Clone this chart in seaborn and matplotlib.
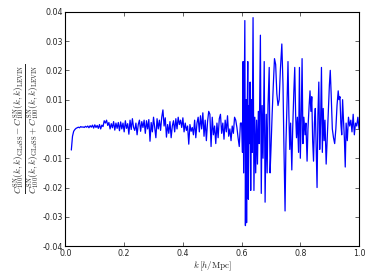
import numpy as np
import pandas as pd
import matplotlib
matplotlib.use("Agg")
import matplotlib.pyplot as plt
import seaborn as sns

# relative difference GLaSS vs Levin
# smooth part: evenly spaced from k=0.02 to k=0.596
calm_ratio = [
    -0.0072, -0.0025, -0.0008, -0.0002, 0.0002, 0.0004, 0.0006, 0.0004, 0.0008, 0.0006,
    0.0007, 0.0005, 0.0009, 0.0006, 0.0010, 0.0004, 0.0011, 0.0006, 0.0013, 0.0003,
    0.0014, 0.0005, 0.0012, 0.0002, 0.0015, 0.0000, 0.0013, 0.0008, 0.0028, 0.0020,
    0.0030, 0.0012, 0.0022, 0.0000, 0.0018, 0.0004, 0.0025, -0.0004, 0.0020, 0.0002,
    0.0022, -0.0006, 0.0024, 0.0000, 0.0020, -0.0010, 0.0028, 0.0002, 0.0018, -0.0018,
    0.0030, -0.0002, 0.0035, 0.0005, -0.0005, 0.0020, -0.0020, 0.0015, 0.0030, -0.0008,
    0.0025, 0.0005, 0.0030, -0.0015, 0.0028, 0.0000, 0.0032, -0.0042, 0.0022, -0.0010,
    0.0040, 0.0005, -0.0030, 0.0035, 0.0000, 0.0030, -0.0005, 0.0040, 0.0065, 0.0010,
    0.0038, -0.0028, 0.0015, -0.0015, 0.0025, -0.0030, 0.0010, 0.0028, -0.0010, 0.0035,
    0.0000, 0.0040, 0.0015, 0.0030, 0.0005, 0.0038, -0.0010, 0.0020, -0.0005, 0.0010,
    -0.0052, 0.0015, -0.0008, 0.0005, -0.0020, 0.0030, -0.0030, 0.0020, 0.0040, -0.0010,
    0.0045, 0.0000, 0.0055, -0.0025, 0.0030, -0.0040, 0.0025, 0.0060, 0.0050, -0.0060,
    0.0040, -0.0020, 0.0010, -0.0050, 0.0020, -0.0030, 0.0035, 0.0050, -0.0015, 0.0020,
    -0.0035, 0.0030, -0.0010, 0.0045, -0.0025, 0.0000, -0.0040, 0.0010, -0.0015, 0.0040,
    0.0030, 0.0005, -0.0030, -0.0060, 0.0020,
]

# noisy part above k=0.6
wild_k = [
    0.600, 0.603, 0.605, 0.607, 0.609, 0.611, 0.613, 0.615, 0.617, 0.619,
    0.621, 0.623, 0.625, 0.627, 0.629, 0.631, 0.633, 0.636, 0.639, 0.642,
    0.645, 0.648, 0.651, 0.654, 0.657, 0.660, 0.664, 0.667, 0.670, 0.673,
    0.677, 0.680, 0.684, 0.687, 0.690, 0.694, 0.697, 0.700, 0.704, 0.708,
    0.712, 0.716, 0.720, 0.724, 0.728, 0.732, 0.737, 0.741, 0.744, 0.748,
    0.751, 0.755, 0.758, 0.761, 0.764, 0.767, 0.771, 0.774, 0.778, 0.781,
    0.784, 0.787, 0.790, 0.794, 0.797, 0.800, 0.803, 0.806, 0.809, 0.812,
    0.816, 0.819, 0.823, 0.826, 0.830, 0.833, 0.836, 0.839, 0.842, 0.845,
    0.848, 0.851, 0.854, 0.857, 0.860, 0.863, 0.866, 0.869, 0.872, 0.875,
    0.878, 0.881, 0.884, 0.888, 0.891, 0.895, 0.899, 0.902, 0.905, 0.909,
    0.913, 0.917, 0.921, 0.925, 0.929, 0.932, 0.935, 0.938, 0.941, 0.944,
    0.947, 0.950, 0.953, 0.956, 0.960, 0.964, 0.968, 0.972, 0.976, 0.980,
    0.984, 0.988, 0.992, 0.996, 1.000,
]
wild_ratio = [
    0.0020, -0.0080, 0.0230, -0.0150, 0.0120, 0.0370, -0.0330, 0.0100, -0.0320, 0.0050,
    0.0230, -0.0240, 0.0080, -0.0050, 0.0160, -0.0210, 0.0100, -0.0080, 0.0380, -0.0210,
    0.0040, -0.0150, 0.0030, -0.0120, 0.0060, -0.0050, 0.0320, -0.0220, 0.0080, -0.0100,
    0.0230, -0.0250, 0.0050, -0.0150, 0.0080, 0.0210, -0.0150, -0.0070, 0.0050, 0.0150,
    0.0240, 0.0220, 0.0120, 0.0080, 0.0100, 0.0200, 0.0290, 0.0150, -0.0050, -0.0280,
    -0.0050, 0.0100, 0.0230, 0.0050, -0.0070, 0.0020, -0.0140, 0.0000, 0.0130, 0.0210,
    0.0050, -0.0030, 0.0040, -0.0080, 0.0210, -0.0100, 0.0030, 0.0240, -0.0050, 0.0040,
    -0.0020, 0.0020, -0.0110, 0.0000, 0.0080, 0.0130, 0.0060, 0.0110, -0.0040, -0.0110,
    0.0020, 0.0070, -0.0060, -0.0200, 0.0050, 0.0160, -0.0070, 0.0020, 0.0210, -0.0080,
    0.0070, -0.0040, 0.0030, -0.0120, -0.0050, 0.0050, 0.0150, 0.0200, 0.0120, 0.0000,
    -0.0030, -0.0050, 0.0000, 0.0080, 0.0130, 0.0100, 0.0110, 0.0020, -0.0020, 0.0100,
    0.0030, -0.0030, -0.0130, 0.0020, -0.0040, 0.0040, 0.0010, 0.0030, -0.0010, 0.0050,
    -0.0020, 0.0020, 0.0010, 0.0040, 0.0000,
]

calm_k = np.linspace(0.02, 0.596, len(calm_ratio))
df = pd.DataFrame({
    "k": np.concatenate([calm_k, wild_k]),
    "ratio": np.concatenate([calm_ratio, wild_ratio]),
})

sns.set_style("ticks")
plt.rcParams["font.family"] = ["DejaVu Sans"]
plt.rcParams["mathtext.fontset"] = "cm"
plt.rcParams["xtick.direction"] = "in"
plt.rcParams["ytick.direction"] = "in"

fig = plt.figure(figsize=(3.74, 2.8), dpi=100)
ax = fig.add_axes([0.175, 0.121, 0.785, 0.837])
sns.lineplot(data=df, x="k", y="ratio", ax=ax, color="#0000ff", linewidth=0.9,
             sort=False, estimator=None)

ax.set_xlim(0, 1)
ax.set_ylim(-0.04, 0.04)
ax.set_xticks([0.0, 0.2, 0.4, 0.6, 0.8, 1.0])
ax.set_yticks(np.arange(-0.04, 0.041, 0.01))
ax.yaxis.set_major_formatter(matplotlib.ticker.FormatStrFormatter("%.2f"))
ax.xaxis.set_major_formatter(matplotlib.ticker.FormatStrFormatter("%.1f"))
ax.tick_params(labelsize=5.7, length=3, width=0.5, top=True, right=True, pad=2)
for s in ax.spines.values():
    s.set_linewidth(0.8)
    s.set_color("black")

ax.set_xlabel(r"$k\,[h/\mathrm{Mpc}]$", fontsize=6.5, labelpad=1)
ax.set_ylabel(r"$\frac{C^{\rm SN}_{100}(k,k)_{\rm GLaSS}-C^{\rm SN}_{100}(k,k)_{\rm LEVIN}}"
              r"{C^{\rm SN}_{100}(k,k)_{\rm GLaSS}+C^{\rm SN}_{100}(k,k)_{\rm LEVIN}}$",
              fontsize=9.5, labelpad=1)

fig.savefig("out.png", dpi=100)
